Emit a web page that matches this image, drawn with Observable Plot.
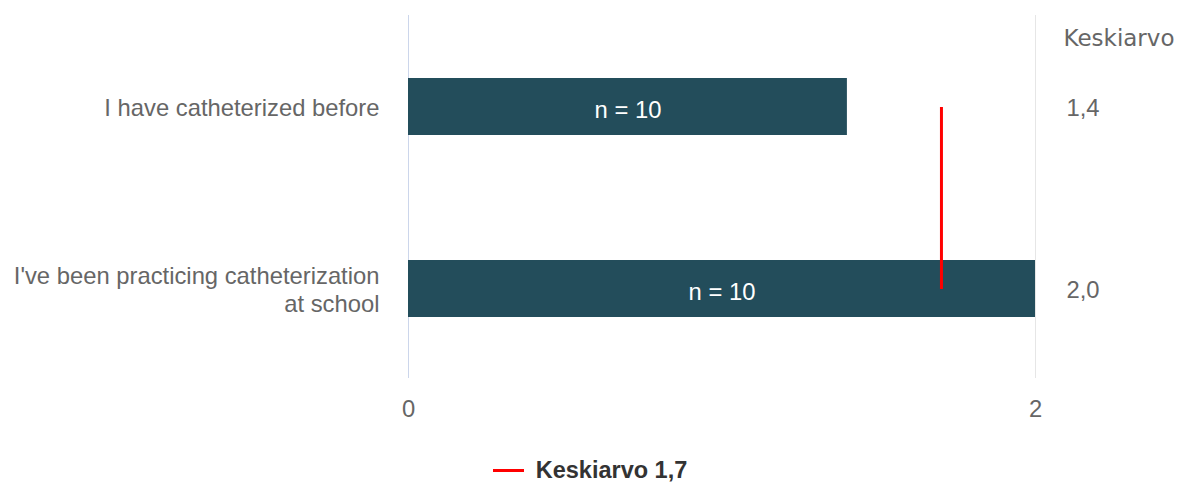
<!DOCTYPE html>
<html>
<head>
<meta charset="utf-8">
<script src="https://cdn.jsdelivr.net/npm/d3@7"></script>
<script src="https://cdn.jsdelivr.net/npm/@observablehq/plot@0.6"></script>
<style>
  html, body { margin: 0; padding: 0; background: #fff; }
  body { width: 1184px; height: 483px; overflow: hidden; font-family: "Liberation Sans", Arial, sans-serif; }
  #legend { height: 44px; display: flex; align-items: center; justify-content: center; margin-left: -4px; }
  #legend .sw { width: 31px; height: 3px; background: #ff0000; margin-right: 12px; }
  #legend .lbl { font-weight: bold; font-size: 23.5px; color: #333; }
</style>
</head>
<body>
<div id="chart"></div>
<div id="legend"><span class="sw"></span><span class="lbl"></span></div>
<script>
const categories = ["I have catheterized before", "I've been practicing catheterization\nat school"];
const means = [1.4, 2.0];
const counts = [10, 10];
const overallMean = 1.7;
const xTicks = [0, 2];
const columnHeader = "Keskiarvo";
const legendLabel = "Keskiarvo 1,7";

const fmt = v => d3.format(".1f")(v).replace(".", ",");
const rows = categories.map((c, i) => ({category: c, mean: means[i], n: counts[i]}));

const chart = Plot.plot({
  width: 1184,
  height: 448,
  marginLeft: 408,
  marginRight: 149,
  marginTop: 15,
  marginBottom: 70,
  style: {fontFamily: "'Liberation Sans', Arial, sans-serif", fontSize: "23.8px", color: "#666", background: "#fff"},
  x: {domain: [0, 2], axis: null},
  y: {domain: categories, paddingInner: 0.686, paddingOuter: 0.34, align: 0.51, axis: null},
  marks: [
    Plot.ruleX([0], {stroke: "#ccd6eb", strokeWidth: 1}),
    Plot.ruleX([2], {stroke: "#e6e6e6", strokeWidth: 1}),
    Plot.axisX(xTicks, {tickSize: 0, tickPadding: 22, label: null, tickFormat: d => String(d)}),
    Plot.barX(rows, {x: "mean", y: "category", fill: "#234d5b"}),
    Plot.text(rows, {x: d => d.mean / 2, y: "category", text: d => `n = ${d.n}`, fill: "white", dy: 3}),
    Plot.text(rows, {y: "category", text: "category", frameAnchor: "left", textAnchor: "end", dx: -29, lineHeight: 1.18, fill: "#666"}),
    Plot.text(rows, {y: "category", text: d => fmt(d.mean), frameAnchor: "right", textAnchor: "start", dx: 31, dy: 1, fill: "#666"}),
    Plot.text([columnHeader], {text: d => d, frameAnchor: "top-right", textAnchor: "start", dx: 28, dy: 14, fill: "#666", fontFamily: "'DejaVu Sans', sans-serif", fontSize: 23}),
    Plot.link([overallMean], {x1: d => d, x2: d => d, y1: () => categories[0], y2: () => categories[1], stroke: "#ff0000", strokeWidth: 3})
  ]
});
document.getElementById("chart").appendChild(chart);
document.querySelector("#legend .lbl").textContent = legendLabel;
</script>
</body>
</html>
